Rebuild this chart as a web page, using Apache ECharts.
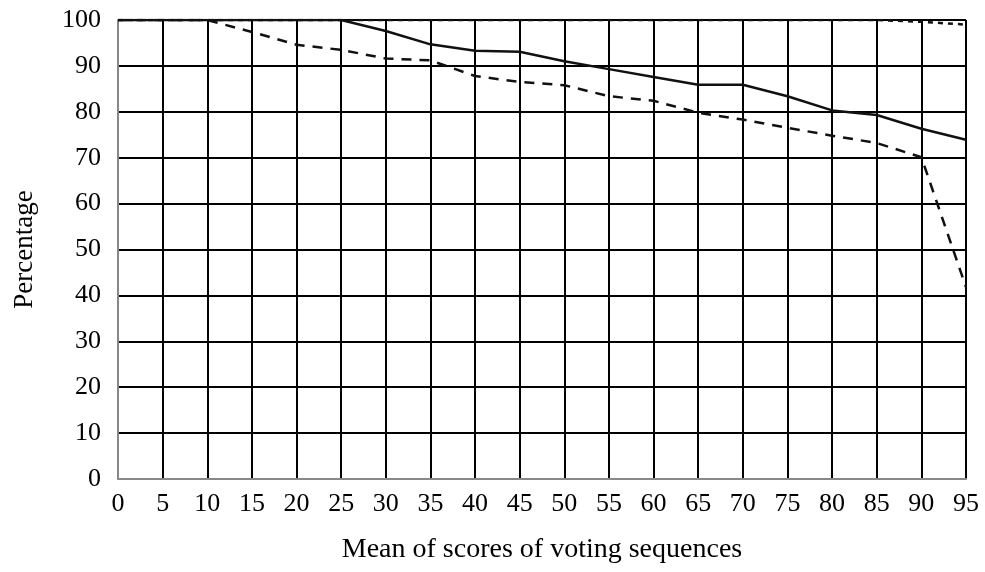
<!DOCTYPE html>
<html><head><meta charset="utf-8">
<script src="https://cdn.jsdelivr.net/npm/echarts@6/dist/echarts.min.js"></script>
<style>html,body{margin:0;padding:0;background:#fff}#c{width:985px;height:572px}</style>
</head><body><div id="c"></div>
<script>
const xValues = [0,5,10,15,20,25,30,35,40,45,50,55,60,65,70,75,80,85,90,95];
const dottedSeries = [100,100,100,100,100,100,100,100,100,100,100,100,100,100,100,100,100,100,99.6,99];
const solidSeries = [100,100,100,100,100,100,97.6,94.7,93.3,93.1,91,89.3,87.6,85.9,85.9,83.4,80.3,79.3,76.3,73.9];
const dashedSeries = [100,100,100,97.4,94.6,93.5,91.6,91.2,87.8,86.5,85.8,83.4,82.4,79.8,78.3,76.5,74.8,73.2,70.1,41.8];
const xTicks = {min:0, max:95, interval:5};
const yTicks = {min:0, max:100, interval:10};

const pair = (vals) => xValues.map((x,i)=>[x, vals[i]]);
const font = '"Liberation Serif", "DejaVu Serif", serif';
const chart = echarts.init(document.getElementById('c'));
chart.setOption({
  animation:false,
  backgroundColor:'#fff',
  grid:{left:118, right:19, top:20, bottom:93},
  xAxis:{type:'value', min:xTicks.min, max:xTicks.max, interval:xTicks.interval,
    name:'Mean of scores of voting sequences', nameLocation:'middle', nameGap:57,
    nameTextStyle:{fontFamily:font, fontSize:28, color:'#000'},
    axisLine:{lineStyle:{color:'#888', width:2}}, axisTick:{show:false},
    axisLabel:{fontFamily:font, fontSize:26, color:'#000', margin:12},
    splitLine:{lineStyle:{color:'#000', width:2}}},
  yAxis:{type:'value', min:yTicks.min, max:yTicks.max, interval:yTicks.interval,
    name:'Percentage', nameLocation:'middle', nameGap:80, nameRotate:90,
    nameTextStyle:{fontFamily:font, fontSize:27, color:'#000'},
    axisLine:{show:true, lineStyle:{color:'#888', width:2}}, axisTick:{show:false},
    axisLabel:{fontFamily:font, fontSize:26, color:'#000', margin:17, padding:[4,0,0,0]},
    splitLine:{lineStyle:{color:'#000', width:2}}},
  series:[
    {type:'line', data:pair(dottedSeries), symbol:'none', z:5,
     lineStyle:{color:'#111', width:2.5, type:[5,5]}},
    {type:'line', data:pair(solidSeries), symbol:'none', z:6,
     lineStyle:{color:'#111', width:2.5, type:'solid'}},
    {type:'line', data:pair(dashedSeries), symbol:'none', z:7,
     lineStyle:{color:'#111', width:2.5, type:[10,8]}}
  ]
});
</script></body></html>
